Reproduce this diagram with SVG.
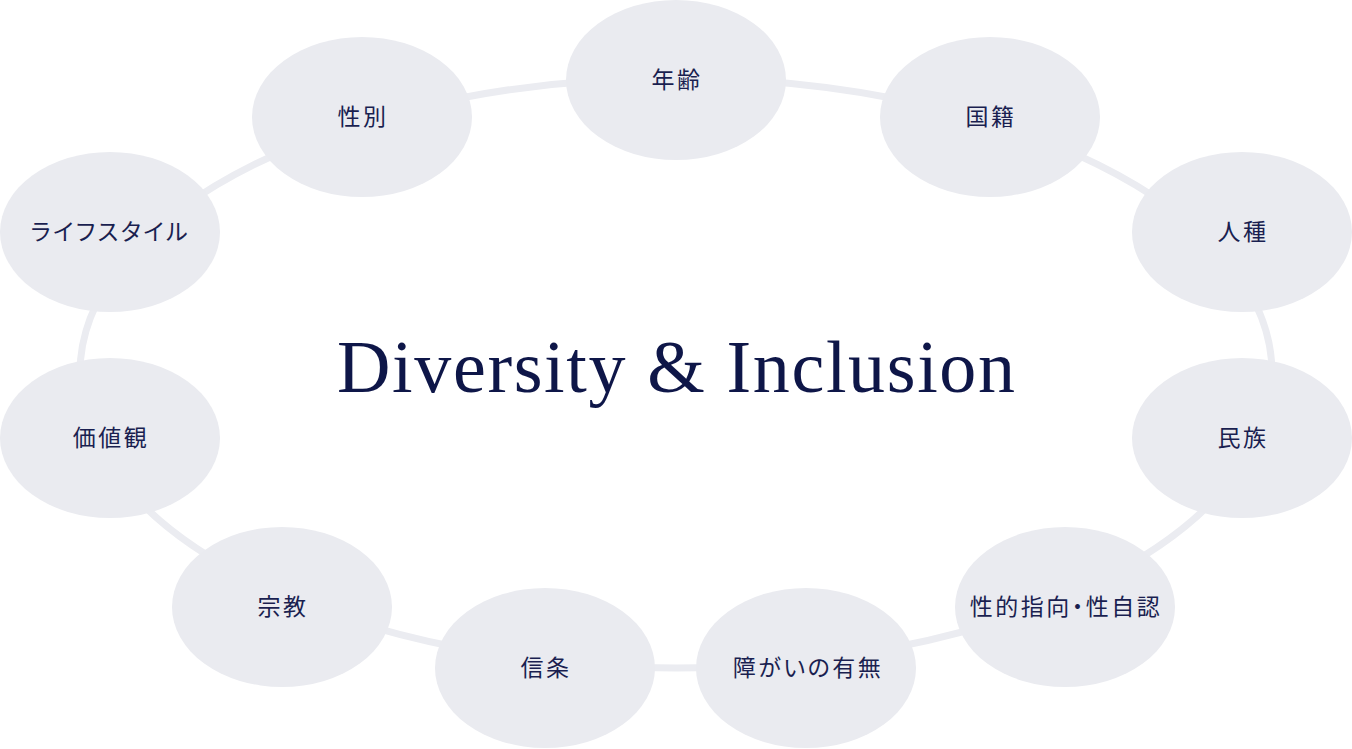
<svg xmlns="http://www.w3.org/2000/svg" width="1352" height="749" viewBox="0 0 1352 749">
<style>
.node{fill:#eaebf0}
.lbl{font-family:"Noto Sans CJK JP","Noto Sans",sans-serif;font-size:23px;font-weight:400;fill:#1a1f50;text-anchor:middle;letter-spacing:2.5px;font-feature-settings:"palt"}
.ring{fill:none;stroke:#ebecf1;stroke-width:7}
.title{font-family:"Liberation Serif","Times New Roman",serif;font-size:74px;fill:#0e1648}
</style>
<rect width="1352" height="749" fill="#ffffff"/>
<g id="connectors">
<ellipse class="ring" cx="676" cy="373" rx="596" ry="295"/>
</g>
<g id="n-age"><ellipse class="node" cx="676" cy="80" rx="110" ry="80"/><text class="lbl" x="677" y="88">年齢</text></g>
<g id="n-gender"><ellipse class="node" cx="362" cy="117" rx="110" ry="80"/><text class="lbl" x="363" y="125">性別</text></g>
<g id="n-nationality"><ellipse class="node" cx="990" cy="117" rx="110" ry="80"/><text class="lbl" x="991" y="125">国籍</text></g>
<g id="n-lifestyle"><ellipse class="node" cx="110" cy="232" rx="110" ry="80"/><text class="lbl" x="110.5" y="240">ライフスタイル</text></g>
<g id="n-race"><ellipse class="node" cx="1242" cy="232" rx="110" ry="80"/><text class="lbl" x="1243" y="240">人種</text></g>
<g id="n-values"><ellipse class="node" cx="110" cy="438" rx="110" ry="80"/><text class="lbl" x="111" y="446">価値観</text></g>
<g id="n-ethnicity"><ellipse class="node" cx="1242" cy="438" rx="110" ry="80"/><text class="lbl" x="1243" y="446">民族</text></g>
<g id="n-religion"><ellipse class="node" cx="282" cy="607" rx="110" ry="80"/><text class="lbl" x="283" y="615">宗教</text></g>
<g id="n-sogi"><ellipse class="node" cx="1065" cy="607" rx="110" ry="80"/><text class="lbl" x="1066" y="615">性的指向・性自認</text></g>
<g id="n-belief"><ellipse class="node" cx="545" cy="668" rx="110" ry="80"/><text class="lbl" x="546" y="676">信条</text></g>
<g id="n-disability"><ellipse class="node" cx="806" cy="668" rx="110" ry="80"/><text class="lbl" x="808" y="676">障がいの有無</text></g>
<g id="title"><text class="title" x="337" y="392" textLength="678" lengthAdjust="spacing">Diversity &amp; Inclusion</text></g>
</svg>
